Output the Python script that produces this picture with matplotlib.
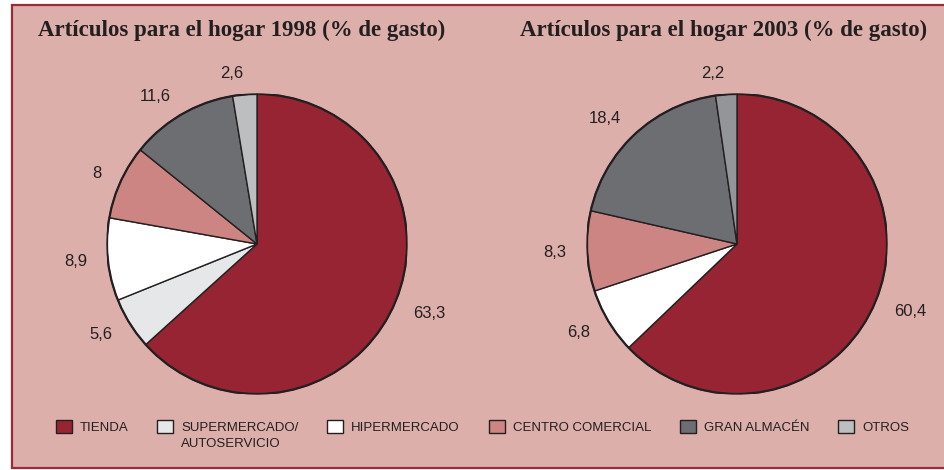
import matplotlib.pyplot as plt
from matplotlib.patches import Rectangle, Patch

# data
categories = ["TIENDA", "SUPERMERCADO/", "HIPERMERCADO",
              "CENTRO COMERCIAL", "GRAN ALMACÉN", "OTROS"]
second_line = "AUTOSERVICIO"  # continuation of the supermercado label
vals_1998 = [63.3, 5.6, 8.9, 8, 11.6, 2.6]
labels_1998 = ["63,3", "5,6", "8,9", "8", "11,6", "2,6"]
# 2003: no supermercado slice
vals_2003 = [60.4, 6.8, 8.3, 18.4, 2.2]
labels_2003 = ["60,4", "6,8", "8,3", "18,4", "2,2"]

colors = ["#962433", "#E6E7E8", "#FFFFFF", "#CC8582", "#6D6E71", "#BCBEC0"]
colors_2003 = ["#962433", "#FFFFFF", "#CC8582", "#6D6E71", "#939598"]

bg = "#DDAFAB"
red = "#9E2A37"
ink = "#231F20"

fig = plt.figure(figsize=(9.45, 4.7), dpi=100)
fig.patch.set_facecolor("white")
W, H = 945, 470
fig.patches.append(Rectangle((12.5 / W, 2.5 / H), 1.0, 463 / H,
                             transform=fig.transFigure, facecolor=bg,
                             edgecolor=red, linewidth=1.6, zorder=-5))


def draw_pie(cx, vals, labs, cols, title, title_x):
    r = 150
    ax = fig.add_axes([(cx - r) / W, (H - 244 - r) / H, 2 * r / W, 2 * r / H])
    ax.patch.set_visible(False)
    wedges, texts = ax.pie(vals, labels=labs, colors=cols, startangle=90,
                           counterclock=False, labeldistance=1.14,
                           wedgeprops=dict(edgecolor=ink, linewidth=1.0),
                           textprops=dict(fontsize=12, color=ink,
                                          family="Liberation Sans"))
    ax.add_patch(plt.Circle((0, 0), 1, fill=False, edgecolor=ink, lw=1.6))
    ax.set_xlim(-1, 1)
    ax.set_ylim(-1, 1)
    ax.set_aspect("equal")
    ax.axis("off")
    fig.text(title_x / W, 1 - 30 / H, title, ha="left", va="center",
             fontsize=16.5, fontweight="bold", family="Liberation Serif",
             color=ink)
    return ax


draw_pie(257, vals_1998, labels_1998, colors,
         "Artículos para el hogar 1998 (% de gasto)", 38)
draw_pie(737, vals_2003, labels_2003, colors_2003,
         "Artículos para el hogar 2003 (% de gasto)", 520)

handles = [Patch(facecolor=c, edgecolor=ink, linewidth=1.0) for c in colors]
leg = fig.legend(handles, categories, loc="upper left",
                 bbox_to_anchor=(44 / W, 1 - 408 / H), ncol=6, frameon=False,
                 handlelength=1.2, handleheight=1.2, handletextpad=0.6,
                 columnspacing=2.2,
                 prop=dict(family="Liberation Sans", size=9.5))
for t in leg.get_texts():
    t.set_color(ink)

# second line of the supermercado label, under the first
fig.canvas.draw()
bb = leg.get_texts()[1].get_window_extent()
fig.text(bb.x0 / W, (bb.y0 - 4) / H, second_line, ha="left", va="top",
         family="Liberation Sans", size=9.5, color=ink)

fig.savefig("out.png", dpi=100)
